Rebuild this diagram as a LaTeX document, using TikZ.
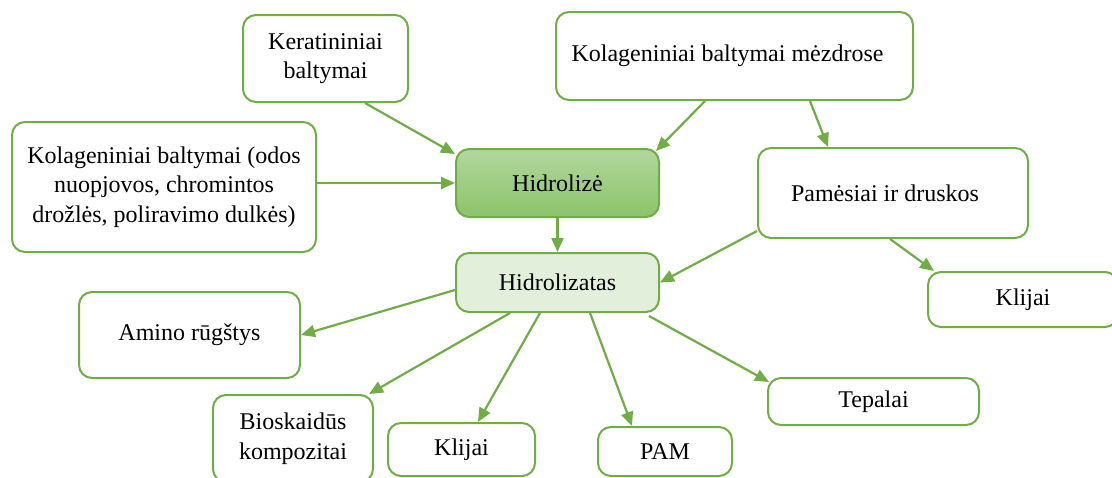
\documentclass[tikz,border=0pt]{standalone}
\usepackage{fontspec}
\setmainfont{Liberation Serif}
\usetikzlibrary{arrows.meta}
\definecolor{gborder}{HTML}{70AD47}
\definecolor{lightfill}{HTML}{E2EFDA}
\definecolor{hidtop}{HTML}{B2D79C}
\definecolor{hidbot}{HTML}{8CC36B}
\tikzset{
  box/.style={draw=gborder, line width=2pt, rounded corners=13pt, fill=white,
    inner sep=0pt, align=center, font=\fontsize{24}{29.5}\selectfont},
  arr/.style={draw=gborder, line width=2.2pt, -{Triangle[length=14pt,width=12pt]}},
}
\begin{document}
\begin{tikzpicture}[x=1pt,y=-1pt]
\clip (0,0) rectangle (1112,477);
\fill[white] (0,0) rectangle (1112,477);

\node[box, minimum width=165pt, minimum height=87pt] (ker) at (325.5,58.5) {Keratininiai\\baltymai};
\node[box, minimum width=357pt, minimum height=88pt] (mez) at (734.5,56) {Kolageniniai baltymai mėzdrose\hspace{14pt}};
\node[box, minimum width=304pt, minimum height=130pt] (odos) at (164,187) {Kolageniniai baltymai (odos\\nuopjovos, chromintos\\drožlės, poliravimo dulkės)};
\node[box, draw=gborder, top color=hidtop, bottom color=hidbot, minimum width=203pt, minimum height=68pt] (hid) at (557.5,183) {Hidrolizė};
\node[box, fill=lightfill, minimum width=203pt, minimum height=59pt] (hzt) at (557.5,282.5) {Hidrolizatas};
\node[box, minimum width=270pt, minimum height=90pt] (pam) at (893,193) {Pamėsiai ir druskos\hspace{16pt}};
\node[box, minimum width=190pt, minimum height=55pt] (klr) at (1023,299.5) {Klijai};
\node[box, minimum width=221pt, minimum height=86pt] (amino) at (189.5,335) {Amino rūgštys};
\node[box, minimum width=160pt, minimum height=87pt] (bio) at (293,438.5) {Bioskaidūs\\kompozitai};
\node[box, minimum width=147pt, minimum height=53pt] (klb) at (461.5,449.5) {Klijai};
\node[box, minimum width=134pt, minimum height=49pt] (pamn) at (665,451.5) {PAM};
\node[box, minimum width=211pt, minimum height=47pt] (tep) at (873.5,401.5) {Tepalai};

\draw[arr] ([xshift=39.5pt]ker.south) -- ([yshift=-6pt]hid.north west);
\draw[arr] ([xshift=-29.5pt]mez.south) -- ([xshift=-4pt,yshift=-3pt]hid.north east);
\draw[arr] ([xshift=75.5pt]mez.south) -- ([xshift=-65pt]pam.north);
\draw[arr] (odos.east |- hid.west) -- (hid.west);
\draw[arr] (hid.south) -- (hzt.north);
\draw[arr] ([yshift=8pt]pam.south west) -- (hzt.east);
\draw[arr] ([xshift=-3pt]pam.south) -- ([xshift=7pt]klr.north west);
\draw[arr] ([yshift=-7.5pt]hzt.west) -- (amino.east);
\draw[arr] ([xshift=-47.5pt]hzt.south) -- ([xshift=-5pt]bio.north east);
\draw[arr] ([xshift=-17.5pt]hzt.south) -- ([xshift=16.5pt]klb.north);
\draw[arr] ([xshift=32.5pt]hzt.south) -- ([xshift=-33pt]pamn.north);
\draw[arr] ([xshift=-11pt,yshift=-3pt]hzt.south east) -- ([xshift=2pt,yshift=-5pt]tep.north west);
\end{tikzpicture}
\end{document}
